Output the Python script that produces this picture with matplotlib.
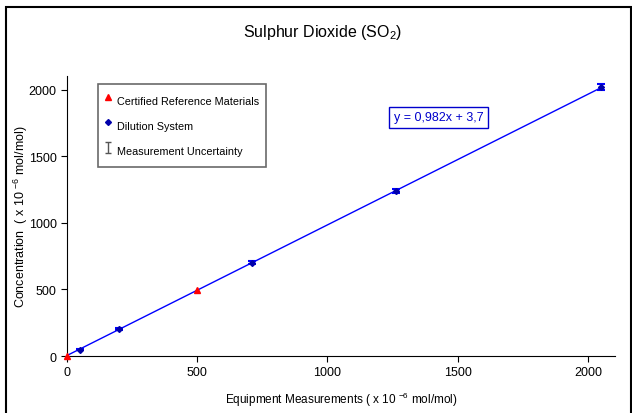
import matplotlib.pyplot as plt
import numpy as np
from matplotlib.lines import Line2D
from matplotlib.patches import Rectangle

plt.rcParams['font.family'] = ['Liberation Sans', 'DejaVu Sans']
plt.rcParams['mathtext.fontset'] = 'custom'
plt.rcParams['mathtext.rm'] = 'Liberation Sans'

# Data
crm_x = [0, 500]
crm_y = [0, 495]
dil_x = [50, 200, 710, 1265, 2050]
dil_y = [48, 202, 702, 1238, 2022]
dil_err = [4, 6, 13, 16, 20]
slope = 0.982
intercept = 3.7
fit_x = [0, 2050]

fig = plt.figure(figsize=(6.32, 4.14), dpi=100)
fig.patches.append(Rectangle((6 / 632, -0.01), 625 / 632, 1 - 8 / 414 + 0.01,
                             transform=fig.transFigure, fill=False,
                             edgecolor='black', linewidth=1.5))
ax = fig.add_axes([67 / 632, 1 - 357 / 414, (615 - 67) / 632, (357 - 77) / 414])

fit_y = [slope * x + intercept for x in fit_x]
ax.plot(fit_x, fit_y, color='#0000ff', linewidth=1.0, zorder=2)
ax.errorbar(dil_x, dil_y, yerr=dil_err, fmt='D', color='#0000aa', ecolor='#0000ff',
            markersize=3, capsize=3, elinewidth=1.2, capthick=1.5, zorder=3)
ax.plot(crm_x, crm_y, '^', color='#ff0000', markersize=5, zorder=4, clip_on=False)

ax.set_xlim(0, 2104)
ax.set_ylim(0, 2105)
ax.set_xticks([0, 500, 1000, 1500, 2000])
ax.set_yticks([0, 500, 1000, 1500, 2000])
for s in ['top', 'right']:
    ax.spines[s].set_visible(False)
ax.tick_params(direction='out', length=4, labelsize=9, width=0.8)

ax.set_xlabel(r'Equipment Measurements ( x 10 $^{-6}$ mol/mol)', fontsize=8.5, labelpad=8)
ax.set_ylabel(r'Concentration  ( x 10 $^{-6}$ mol/mol)', fontsize=9)
ax.yaxis.set_label_coords(-0.068, 0.5)
fig.text(0.51, 1 - 32 / 414, r'Sulphur Dioxide (SO$_2$)', ha='center', va='center',
         fontsize=11.5)

unc = ax.errorbar([np.nan], [np.nan], yerr=[1], fmt='none', ecolor='#555555',
                  capsize=2, elinewidth=1)
handles = [
    Line2D([], [], marker='^', color='#ff0000', linestyle='none', markersize=5),
    Line2D([], [], marker='D', color='#0000aa', linestyle='none', markersize=3),
    unc,
]
labels = ['Certified Reference Materials', 'Dilution System', 'Measurement Uncertainty']
leg = ax.legend(handles, labels, loc='upper left', bbox_to_anchor=(0.056, 0.97),
                fontsize=7.8, frameon=True, fancybox=False, handlelength=0.7,
                handleheight=2.4, handletextpad=0.5, labelspacing=0.5,
                borderpad=0.6, borderaxespad=0)
leg.get_frame().set_edgecolor('#444444')
leg.get_frame().set_linewidth(1.2)

ax.text(1255, 1795, 'y = 0,982x + 3,7', fontsize=9, color='#0000cc',
        va='center', ha='left',
        bbox=dict(boxstyle='square,pad=0.35', facecolor='white',
                  edgecolor='#0000cc', linewidth=1))

fig.savefig('out.png', dpi=100)
